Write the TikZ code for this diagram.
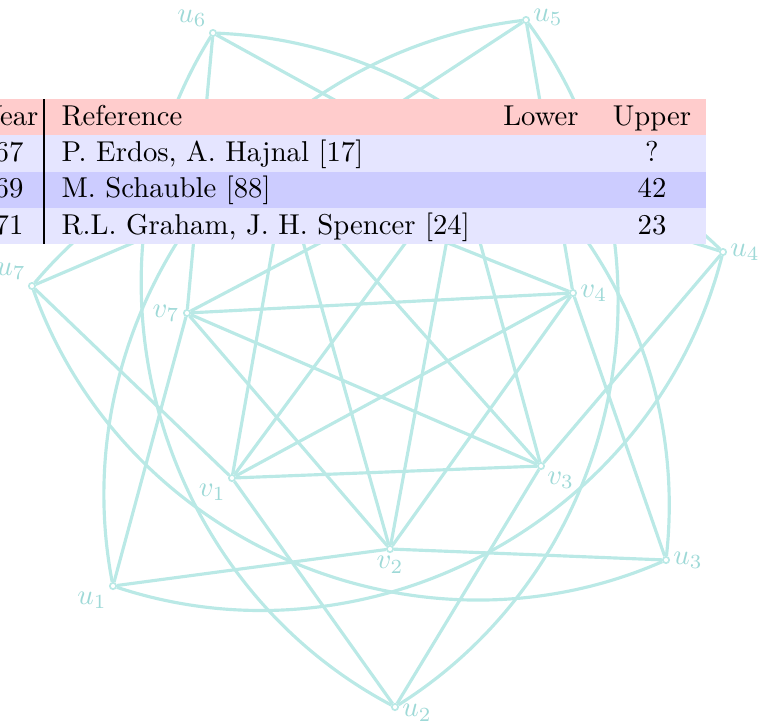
\documentclass[tikz,border=0pt]{standalone}
\usepackage{amsmath}
\definecolor{graphcyan}{RGB}{186,233,230}

\begin{document}
\begin{tikzpicture}[x=0.3484pt, y=0.3484pt,
    vert/.style={circle, draw=graphcyan, fill=white, line width=0.6pt, inner sep=0pt, minimum size=2.2pt},
    link/.style={draw=graphcyan, line width=1.1pt},
    lbl/.style={text=graphcyan!85!teal, inner sep=1pt},
    cell/.style={inner sep=0pt, anchor=base}]
    \useasboundingbox (0,0) rectangle (763,-726);
    \clip (0,0) rectangle (763,-726);

    % Draw nodes
    \node[vert, label={[lbl]below left:$u_1$}] (u1) at (113,-586) {};
    \node[vert, label={[lbl, yshift=-2pt]right:$u_2$}] (u2) at (395,-707) {};
    \node[vert, label={[lbl]right:$u_3$}] (u3) at (666,-560) {};
    \node[vert, label={[lbl]right:$u_4$}] (u4) at (723,-252) {};
    \node[vert, label={[lbl, yshift=1pt]right:$u_5$}] (u5) at (526,-20) {};
    \node[vert, label={[lbl]above left:$u_6$}] (u6) at (213,-33) {};
    \node[vert, label={[lbl]above left:$u_7$}] (u7) at (32,-286) {};
    \node[vert, label={[lbl]below left:$v_1$}] (v1) at (232,-478) {};
    \node[vert, label={[lbl]below:$v_2$}] (v2) at (390,-549) {};
    \node[vert, label={[lbl]below right:$v_3$}] (v3) at (541,-466) {};
    \node[vert, label={[lbl]right:$v_4$}] (v4) at (573,-293) {};
    \node[vert] (v5) at (460,-169) {};
    \node[vert] (v6) at (285,-178) {};
    \node[vert, label={[lbl]left:$v_7$}] (v7) at (187,-313) {};

    % Draw connections
    \draw[link] (v1) -- (v3);
    \draw[link] (v1) -- (v4);
    \draw[link] (v2) -- (v4);
    \draw[link] (v2) -- (v5);
    \draw[link] (v3) -- (v5);
    \draw[link] (v3) -- (v6);
    \draw[link] (v4) -- (v6);
    \draw[link] (v4) -- (v7);
    \draw[link] (v5) -- (v7);
    \draw[link] (v5) -- (v1);
    \draw[link] (v6) -- (v1);
    \draw[link] (v6) -- (v2);
    \draw[link] (v7) -- (v2);
    \draw[link] (v7) -- (v3);

    \draw[link] (u1) -- (v7);
    \draw[link] (u1) -- (v2);
    \draw[link] (u2) -- (v1);
    \draw[link] (u2) -- (v3);
    \draw[link] (u3) -- (v2);
    \draw[link] (u3) -- (v4);
    \draw[link] (u4) -- (v3);
    \draw[link] (u4) -- (v5);
    \draw[link] (u5) -- (v4);
    \draw[link] (u5) -- (v6);
    \draw[link] (u6) -- (v5);
    \draw[link] (u6) -- (v7);
    \draw[link] (u7) -- (v6);
    \draw[link] (u7) -- (v1);

    % Outer arcs
    \draw[link] (u4) to[bend left=47] (u1);
    \draw[link] (u5) to[bend left=47] (u2);
    \draw[link] (u6) to[bend left=47] (u3);
    \draw[link] (u7) to[bend left=47] (u4);
    \draw[link] (u1) to[bend left=47] (u5);
    \draw[link] (u2) to[bend left=47] (u6);
    \draw[link] (u3) to[bend left=47] (u7);

    % Table
    \fill[red!20] (-120,-99) rectangle (706,-135);
    \fill[blue!10] (-120,-135) rectangle (706,-172);
    \fill[blue!20] (-120,-172) rectangle (706,-208);
    \fill[blue!10] (-120,-208) rectangle (706,-244);
    \draw[line width=0.4pt] (44,-99) -- (44,-244);

    \node[cell, anchor=base east] (year) at (39,-125) {Year};
    \node[cell, anchor=base west] (ref) at (61,-125) {Reference};
    \node[cell] (lower) at (541,-125) {Lower};
    \node[cell] (upper) at (652,-125) {Upper};

    \node[cell, anchor=base east] (y1) at (24,-161) {1967};
    \node[cell, anchor=base west] (r1) at (61,-161) {P. Erdos, A. Hajnal [17]};
    \node[cell] (b1) at (652,-161) {?};

    \node[cell, anchor=base east] (y2) at (24,-197) {1969};
    \node[cell, anchor=base west] (r2) at (61,-197) {M. Schauble [88]};
    \node[cell] (b2) at (652,-197) {42};

    \node[cell, anchor=base east] (y3) at (24,-234) {1971};
    \node[cell, anchor=base west] (r3) at (61,-234) {R.L. Graham, J. H. Spencer [24]};
    \node[cell] (b3) at (652,-234) {23};
\end{tikzpicture}
\end{document}
